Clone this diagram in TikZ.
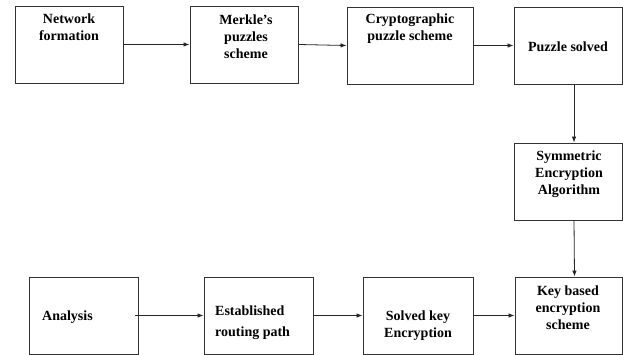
\documentclass[tikz,border=0pt]{standalone}
\usepackage{fontspec}
\setmainfont{Liberation Serif}
\usetikzlibrary{arrows.meta}

\begin{document}
\begin{tikzpicture}[
      x=1pt, y=-1pt,
      stage/.style={
        draw=black!80,
        line width=0.9pt,
        minimum width=108pt,
        minimum height=77pt,
        inner sep=0pt
      },
      caption/.style={
        align=center,
        inner sep=0pt,
        font=\fontsize{14}{17}\selectfont\bfseries
      },
      flow/.style={-{Latex[length=6pt,width=4.5pt]}, line width=0.8pt, black!85}
    ]
      \path[use as bounding box] (0,0) rectangle (623,355);

      % Top row
      \node[stage] (net) at (69,44.5) {};
      \node[stage] (merkle) at (244,44.5) {};
      \node[stage, minimum width=126pt] (crypto) at (410,45.5) {};
      \node[stage] (solved) at (568,45.5) {};

      \node[caption] (net-t) at (69,27) {Network\\formation};
      \node[caption] (merkle-t) at (246,37) {Merkle’s\\puzzles\\scheme};
      \node[caption] (crypto-t) at (410,29) {Cryptographic\\puzzle scheme};
      \node[caption] (solved-t) at (568,47) {Puzzle solved};

      % Right column
      \node[stage] (sym) at (568,181.5) {};
      \node[caption] (sym-t) at (569,174) {Symmetric\\Encryption\\Algorithm};

      % Bottom row
      \node[stage, minimum width=109pt] (ana) at (83.5,315.5) {};
      \node[stage, minimum width=109pt] (route) at (258.5,315.5) {};
      \node[stage, minimum width=110pt] (skey) at (418,315.5) {};
      \node[stage, minimum width=107pt] (kbased) at (568.5,315.5) {};

      \node[caption, anchor=west] (ana-t) at (42,317) {Analysis};
      \node[caption, anchor=west, align=left] (route-t) at (215,323) {Established\\[4pt]routing path};
      \node[caption] (skey-t) at (418,325.5) {Solved key\\Encryption};
      \node[caption] (kbased-t) at (568,308) {Key based\\encryption\\scheme};

      % Connections
      \draw[flow] (net.east) -- (merkle.west);
      \draw[flow] (merkle.east) -- (crypto.west);
      \draw[flow] (crypto.east) -- (solved.west);
      \draw[flow] ([xshift=6pt]solved.south) -- ([xshift=6pt]sym.north);
      \draw[flow] ([xshift=6pt]sym.south) -- ([xshift=6pt]kbased.north);
      \draw[flow] ([xshift=-3pt]ana.east) -- (route.west);
      \draw[flow] (route.east) -- (skey.west);
      \draw[flow] (skey.east) -- (kbased.west);
    \end{tikzpicture}
\end{document}
